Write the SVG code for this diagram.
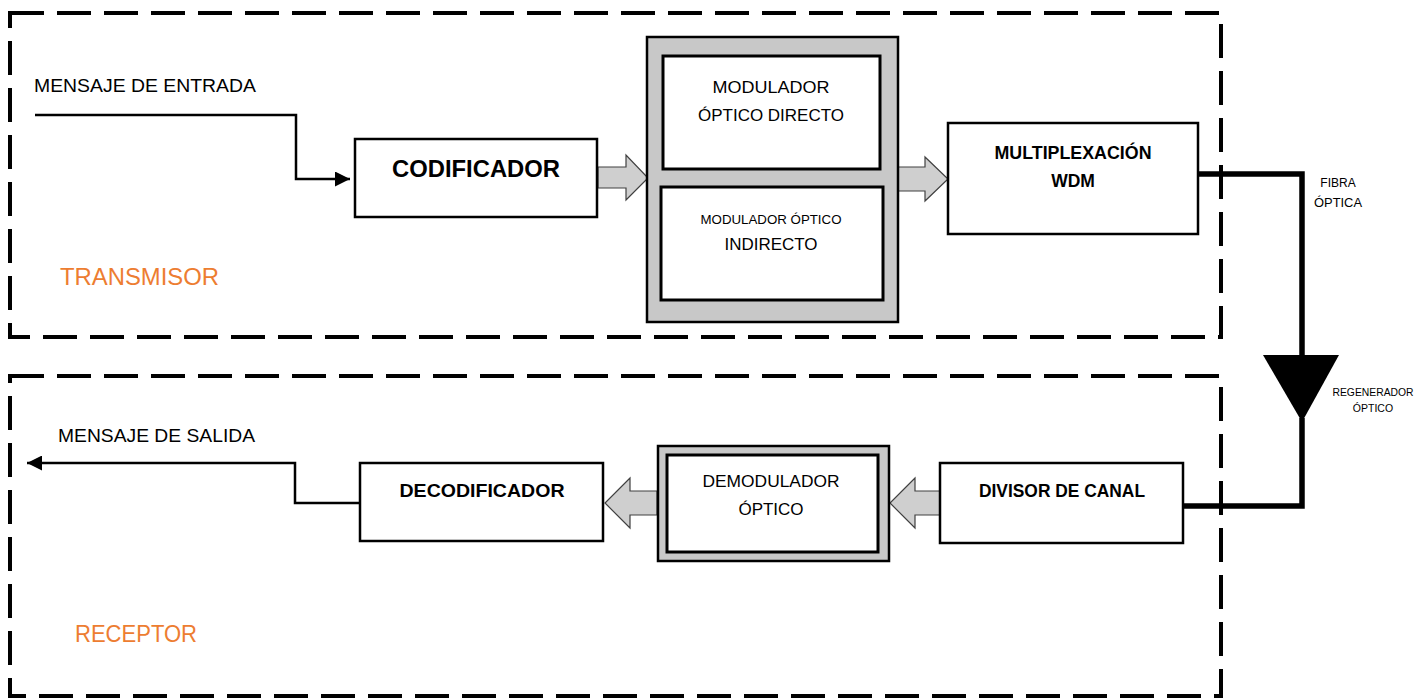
<svg xmlns="http://www.w3.org/2000/svg" width="1427" height="698" viewBox="0 0 1427 698">
<style>
.dash{fill:none;stroke:#000;stroke-width:4;stroke-dasharray:34 13}
.box{fill:#fff;stroke:#000;stroke-width:2.5}
.gbox{fill:#c8c8c8;stroke:#000;stroke-width:2.5}
.ibox{fill:#fff;stroke:#000;stroke-width:3}
.barrow{fill:#cfcfcf;stroke:#404040;stroke-width:1.2}
.line{fill:none;stroke:#000;stroke-width:2.5}
.fiber{fill:none;stroke:#000;stroke-width:5.5}
text{font-family:"Liberation Sans",Arial,sans-serif;fill:#000}
.b{font-weight:bold}
.c{text-anchor:middle}
.or{fill:#ED7D31}
</style>
<defs>
<marker id="ah" viewBox="0 0 10 10" refX="10" refY="5" markerWidth="6" markerHeight="6" orient="auto-start-reverse" markerUnits="strokeWidth">
<path d="M0,0 L10,5 L0,10 z" fill="#000"/>
</marker>
</defs>
<rect width="1427" height="698" fill="#fff"/>

<g id="transmisor">
<rect class="dash" x="10" y="13" width="1211" height="324"/>
<text class="or" x="60" y="285" font-size="23" textLength="159" lengthAdjust="spacingAndGlyphs">TRANSMISOR</text>
</g>
<g id="receptor">
<rect class="dash" x="10" y="376" width="1211" height="320"/>
<text class="or" x="75" y="642" font-size="23" textLength="122" lengthAdjust="spacingAndGlyphs">RECEPTOR</text>
</g>

<g id="connectors">
<path class="line" d="M35,115 H296 V179 H350" marker-end="url(#ah)"/>
<path class="line" d="M360,503 H295 V463 H27" marker-end="url(#ah)"/>
<polygon class="barrow" points="598,167 626,167 626,155 648,178 626,200 626,188 598,188"/>
<polygon class="barrow" points="898,167 925,167 925,157 948,179 925,201 925,191 898,191"/>
<polygon class="barrow" points="941,491 915,491 915,478 890,503 915,528 915,515 941,515"/>
<polygon class="barrow" points="657,491 630,491 630,478 605,503 630,528 630,515 657,515"/>
<path class="fiber" d="M1198,174 H1302 V360"/>
<path class="fiber" d="M1302,418 V506 H1183"/>
</g>

<g id="mensaje-entrada">
<text x="34" y="92" font-size="19" textLength="222" lengthAdjust="spacingAndGlyphs">MENSAJE DE ENTRADA</text>
</g>
<g id="mensaje-salida">
<text x="58" y="442" font-size="19" textLength="197" lengthAdjust="spacingAndGlyphs">MENSAJE DE SALIDA</text>
</g>

<g id="codificador">
<rect class="box" x="355" y="139" width="242" height="78"/>
<text class="b c" x="476" y="177" font-size="23" textLength="168" lengthAdjust="spacingAndGlyphs">CODIFICADOR</text>
</g>

<g id="modulador">
<rect class="gbox" x="647" y="37" width="251" height="285"/>
<rect class="ibox" x="663" y="56" width="217" height="113"/>
<text class="c" x="771" y="93" font-size="17" textLength="117" lengthAdjust="spacingAndGlyphs">MODULADOR</text>
<text class="c" x="771" y="121" font-size="17" textLength="146" lengthAdjust="spacingAndGlyphs">ÓPTICO DIRECTO</text>
<rect class="ibox" x="661" y="187" width="222" height="113"/>
<text class="c" x="771" y="224" font-size="13" textLength="141" lengthAdjust="spacingAndGlyphs">MODULADOR ÓPTICO</text>
<text class="c" x="771" y="250" font-size="17" textLength="93" lengthAdjust="spacingAndGlyphs">INDIRECTO</text>
</g>

<g id="multiplexacion">
<rect class="box" x="948" y="123" width="250" height="111"/>
<text class="b c" x="1073" y="159" font-size="17.5" textLength="157" lengthAdjust="spacingAndGlyphs">MULTIPLEXACIÓN</text>
<text class="b c" x="1073" y="187" font-size="17.5">WDM</text>
</g>

<g id="fibra-optica">
<text class="c" x="1338" y="187" font-size="12">FIBRA</text>
<text class="c" x="1338" y="207" font-size="12" textLength="48" lengthAdjust="spacingAndGlyphs">ÓPTICA</text>
</g>

<g id="regenerador">
<polygon points="1263,355 1339,355 1302,422" fill="#000"/>
<text class="c" x="1373" y="396" font-size="10.5" textLength="81" lengthAdjust="spacingAndGlyphs">REGENERADOR</text>
<text class="c" x="1373" y="412" font-size="10.5">ÓPTICO</text>
</g>

<g id="divisor">
<rect class="box" x="940" y="463" width="243" height="80"/>
<text class="b c" x="1062" y="497" font-size="17.5" textLength="166" lengthAdjust="spacingAndGlyphs">DIVISOR DE CANAL</text>
</g>

<g id="demodulador">
<rect class="gbox" x="658" y="446" width="231" height="115"/>
<rect class="ibox" x="667" y="455" width="211" height="97"/>
<text class="c" x="771" y="487" font-size="17" textLength="137" lengthAdjust="spacingAndGlyphs">DEMODULADOR</text>
<text class="c" x="771" y="515" font-size="17">ÓPTICO</text>
</g>

<g id="decodificador">
<rect class="box" x="360" y="463" width="243" height="78"/>
<text class="b c" x="482" y="497" font-size="17.5" textLength="165" lengthAdjust="spacingAndGlyphs">DECODIFICADOR</text>
</g>
</svg>
